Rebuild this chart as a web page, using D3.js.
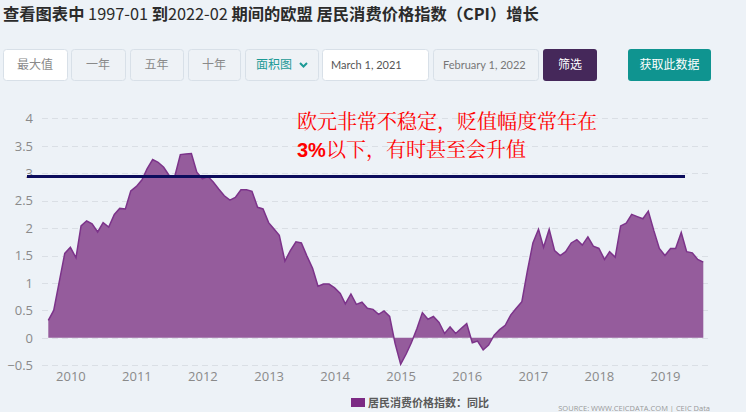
<!DOCTYPE html>
<html>
<head>
<meta charset="utf-8">
<script src="https://cdn.jsdelivr.net/npm/d3@7"></script>
<style>
    body { margin: 0; background: #edf2f7; }
    svg { display: block; font-family: "Noto Sans CJK SC", "Open Sans", sans-serif; }
</style>
</head>
<body>
<div id="chart"></div>
<script>
const width = 746;
const height = 412;

// monthly CPI yoy, first value is Sep 2009
const firstMonth = "2009-09";
const cpiValues = [
    0.32, 0.50, 1.03, 1.54,
    1.65, 1.46, 2.04, 2.13, 2.08, 1.93, 2.10, 2.02, 2.25, 2.36, 2.35, 2.68,
    2.76, 2.88, 3.08, 3.25, 3.20, 3.11, 2.96, 2.94, 3.34, 3.35, 3.36, 3.02,
    2.90, 2.94, 2.84, 2.71, 2.59, 2.51, 2.56, 2.70, 2.70, 2.67, 2.38, 2.35,
    2.10, 1.98, 1.87, 1.40, 1.59, 1.75, 1.73, 1.49, 1.27, 0.94, 0.98, 0.98,
    0.91, 0.81, 0.62, 0.80, 0.61, 0.65, 0.54, 0.52, 0.43, 0.49, 0.39, -0.10,
    -0.48, -0.29, -0.09, 0.17, 0.46, 0.34, 0.39, 0.28, 0.08, 0.20, 0.08, 0.17,
    0.26, -0.09, -0.06, -0.22, -0.13, 0.05, 0.15, 0.23, 0.42, 0.54, 0.66, 1.21,
    1.73, 1.98, 1.65, 1.98, 1.59, 1.50, 1.57, 1.73, 1.79, 1.69, 1.84, 1.67,
    1.63, 1.43, 1.57, 1.47, 2.04, 2.09, 2.25, 2.21, 2.17, 2.31, 1.95, 1.63,
    1.50, 1.63, 1.63, 1.92, 1.57, 1.55, 1.43, 1.38
];
const yTicks = [-0.5, 0, 0.5, 1, 1.5, 2, 2.5, 3, 3.5, 4];
const xYears = [2010, 2011, 2012, 2013, 2014, 2015, 2016, 2017, 2018, 2019];
const refValue = 2.94;

const titleParts = [
    ["查看图表中 ", 700], ["1997-01 ", 400], ["到", 700], ["2022-02 ", 400],
    ["期间的欧盟 居民消费价格指数（CPI）增长", 700]
];
const buttons = [
    { label: "最大值", x: 3, w: 64, fill: "#ffffff" },
    { label: "一年", x: 71, w: 54, fill: "#eef2f6" },
    { label: "五年", x: 130, w: 53, fill: "#eef2f6" },
    { label: "十年", x: 188, w: 52, fill: "#eef2f6" }
];
const noteLines = ["欧元非常不稳定，贬值幅度常年在", "以下，有时甚至会升值"];
const legendLabel = "居民消费价格指数：同比";
const sourceText = "SOURCE: WWW.CEICDATA.COM | CEIC Data";

const parseMonth = d3.timeParse("%Y-%m");
const start = parseMonth(firstMonth);
const data = cpiValues.map((v, i) => ({ date: d3.timeMonth.offset(start, i), value: v }));

const svg = d3.select("#chart")
    .append("svg")
    .attr("width", width)
    .attr("height", height);

svg.append("rect").attr("width", width).attr("height", height).attr("fill", "#edf2f7");

// title
const title = svg.append("text")
    .attr("x", 3)
    .attr("y", 20)
    .attr("font-size", 16.3)
    .attr("fill", "#2b2b2b");
titleParts.forEach(p => {
    title.append("tspan").attr("font-weight", p[1]).text(p[0]);
});

// control row
const btnY = 49, btnH = 31;
const btn = svg.append("g").attr("font-size", 12);
buttons.forEach(b => {
    btn.append("rect")
        .attr("x", b.x + 0.5).attr("y", btnY + 0.5)
        .attr("width", b.w).attr("height", btnH)
        .attr("rx", 3)
        .attr("fill", b.fill)
        .attr("stroke", "#d8e0e8");
    btn.append("text")
        .attr("x", b.x + b.w / 2).attr("y", btnY + btnH / 2 + 4)
        .attr("text-anchor", "middle")
        .attr("fill", "#8a8a8a")
        .text(b.label);
});

// chart type dropdown
btn.append("rect")
    .attr("x", 245.5).attr("y", btnY + 0.5).attr("width", 73).attr("height", btnH)
    .attr("rx", 3).attr("fill", "#eef2f6").attr("stroke", "#d8e0e8");
btn.append("text")
    .attr("x", 256).attr("y", btnY + btnH / 2 + 4)
    .attr("fill", "#1d9a96")
    .text("面积图");
btn.append("path")
    .attr("d", "M300,63 l3.5,3.5 l3.5,-3.5")
    .attr("fill", "none").attr("stroke", "#1d9a96").attr("stroke-width", 2);

// date inputs
btn.append("rect")
    .attr("x", 322.5).attr("y", btnY + 0.5).attr("width", 106).attr("height", btnH)
    .attr("rx", 3).attr("fill", "#ffffff").attr("stroke", "#d8e0e8");
btn.append("text")
    .attr("x", 331).attr("y", btnY + btnH / 2 + 4)
    .attr("font-size", 11).attr("fill", "#555")
    .attr("font-family", "Lato, sans-serif")
    .text("March 1, 2021");
btn.append("rect")
    .attr("x", 433.5).attr("y", btnY + 0.5).attr("width", 105).attr("height", btnH)
    .attr("rx", 3).attr("fill", "#eef2f6").attr("stroke", "#d8e0e8");
btn.append("text")
    .attr("x", 443).attr("y", btnY + btnH / 2 + 4)
    .attr("font-size", 11).attr("fill", "#777")
    .attr("font-family", "Lato, sans-serif")
    .text("February 1, 2022");

btn.append("rect")
    .attr("x", 543).attr("y", btnY).attr("width", 54).attr("height", btnH + 1)
    .attr("rx", 3).attr("fill", "#45285a");
btn.append("text")
    .attr("x", 570).attr("y", btnY + btnH / 2 + 4)
    .attr("text-anchor", "middle").attr("fill", "#fff")
    .text("筛选");

btn.append("rect")
    .attr("x", 628).attr("y", btnY).attr("width", 83).attr("height", btnH + 1)
    .attr("rx", 3).attr("fill", "#0f9490");
btn.append("text")
    .attr("x", 669.5).attr("y", btnY + btnH / 2 + 4)
    .attr("text-anchor", "middle").attr("fill", "#fff")
    .text("获取此数据");

// scales
const xScale = d3.scaleTime()
    .domain(d3.extent(data, d => d.date))
    .range([48.3, 703.3]);

const yScale = d3.scaleLinear()
    .domain([-0.5, 4])
    .range([365.3, 118.4]);

// grid
svg.append("g")
    .selectAll("line")
    .data(yTicks)
    .join("line")
    .attr("x1", 42).attr("x2", 710)
    .attr("y1", d => Math.round(yScale(d)) + 0.5)
    .attr("y2", d => Math.round(yScale(d)) + 0.5)
    .attr("stroke", "#dadfe5")
    .attr("stroke-dasharray", "6,4");

// y axis labels
const yAxis = svg.append("g")
    .attr("transform", "translate(33,0)")
    .call(d3.axisLeft(yScale).tickValues(yTicks).tickSize(0).tickPadding(0).tickFormat(d3.format("")));
yAxis.select(".domain").remove();
yAxis.selectAll("text")
    .attr("font-family", "'Open Sans', sans-serif")
    .attr("font-size", 13)
    .attr("fill", "#8a8a8a");

// x axis labels
const xAxis = svg.append("g")
    .attr("transform", "translate(0,366)")
    .call(d3.axisBottom(xScale)
        .tickValues(xYears.map(y => new Date(y, 0, 1)))
        .tickSize(0).tickPadding(6)
        .tickFormat(d3.timeFormat("%Y")));
xAxis.select(".domain").remove();
xAxis.selectAll("text")
    .attr("font-family", "'Open Sans', sans-serif")
    .attr("font-size", 13)
    .attr("fill", "#8a8a8a");

// area
const area = d3.area()
    .x(d => xScale(d.date))
    .y0(yScale(0))
    .y1(d => yScale(d.value));

const line = d3.line()
    .x(d => xScale(d.date))
    .y(d => yScale(d.value));

svg.append("path")
    .datum(data)
    .attr("d", area)
    .attr("fill", "#955c9c");

svg.append("path")
    .datum(data)
    .attr("d", line)
    .attr("fill", "none")
    .attr("stroke", "#7c338a")
    .attr("stroke-width", 1.5);

// 3% reference line
svg.append("line")
    .attr("x1", 27).attr("x2", 685)
    .attr("y1", yScale(refValue)).attr("y2", yScale(refValue))
    .attr("stroke", "#0c0c5c")
    .attr("stroke-width", 3);

// note
svg.append("text")
    .attr("x", 297).attr("y", 129)
    .attr("font-size", 20)
    .attr("font-family", "'Noto Serif CJK SC', serif")
    .attr("fill", "#ff0000")
    .text(noteLines[0]);
const note2 = svg.append("text")
    .attr("x", 297).attr("y", 157)
    .attr("font-size", 20)
    .attr("fill", "#ff0000");
note2.append("tspan")
    .attr("font-weight", 700)
    .attr("font-family", "'Liberation Sans', Arial, sans-serif")
    .text("3%");
note2.append("tspan")
    .attr("font-family", "'Noto Serif CJK SC', serif")
    .text(noteLines[1]);

// legend
svg.append("rect")
    .attr("x", 351).attr("y", 398).attr("width", 14).attr("height", 9)
    .attr("fill", "#7c2a84");
svg.append("text")
    .attr("x", 368).attr("y", 407)
    .attr("font-size", 11)
    .attr("font-weight", 700)
    .attr("fill", "#5a5a5a")
    .text(legendLabel);

svg.append("text")
    .attr("x", 710).attr("y", 411)
    .attr("text-anchor", "end")
    .attr("font-family", "'Open Sans', sans-serif")
    .attr("font-size", 7.5)
    .attr("fill", "#9a9a9a")
    .text(sourceText);
</script>
</body>
</html>
